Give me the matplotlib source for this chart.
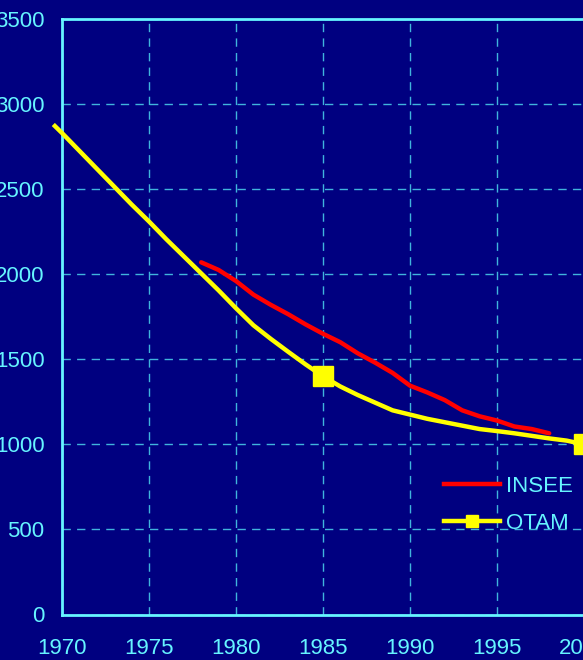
import matplotlib.pyplot as plt
from matplotlib.lines import Line2D

# ------------------------------------------------------------
# data
# ------------------------------------------------------------
otam_years = [1969.5, 1970, 1971, 1972, 1973, 1974, 1975, 1976, 1977, 1978, 1979,
              1980, 1981, 1982, 1983, 1984, 1985, 1986, 1987, 1988, 1989,
              1990, 1991, 1992, 1993, 1994, 1995, 1996, 1997, 1998, 1999, 2000]
otam_values = [2880, 2830, 2725, 2620, 2515, 2410, 2310, 2205, 2105, 2005, 1905,
               1800, 1700, 1620, 1544, 1470, 1400, 1340, 1290, 1245, 1200,
               1175, 1150, 1130, 1110, 1090, 1078, 1065, 1050, 1035, 1022, 1000]
otam_marked = [1985, 2000]

insee_years = [1978, 1979, 1980, 1981, 1982, 1983, 1984, 1985, 1986, 1987, 1988,
               1989, 1990, 1991, 1992, 1993, 1994, 1995, 1996, 1997, 1998]
insee_values = [2070, 2025, 1960, 1880, 1820, 1765, 1705, 1650, 1600, 1535, 1480,
                1420, 1345, 1305, 1260, 1200, 1165, 1140, 1105, 1090, 1065]

x_ticks = [1970, 1975, 1980, 1985, 1990, 1995, 2000]
y_ticks = [0, 500, 1000, 1500, 2000, 2500, 3000, 3500]

# ------------------------------------------------------------
# style
# ------------------------------------------------------------
BG = "#000080"
CYAN = "#66F4FF"
GRID = "#40B4DC"
plt.rcParams["font.family"] = ["Liberation Sans", "DejaVu Sans"]

fig = plt.figure(figsize=(5.83, 6.6), dpi=100, facecolor=BG)
ax = fig.add_axes([62 / 583, 45.5 / 660, 522 / 583, 595.5 / 660], facecolor=BG)

mark_idx = [otam_years.index(y) for y in otam_marked]
ax.plot(otam_years, otam_values, color="#FFFF00", lw=3.2, marker="s",
        markersize=14, markevery=mark_idx, clip_on=False, zorder=3,
        solid_capstyle="butt")
ax.plot(insee_years, insee_values, color="#FF0000", lw=3.2, zorder=4,
        solid_capstyle="round")

ax.set_xlim(1970, 2000)
ax.set_ylim(0, 3500)
ax.set_xticks(x_ticks)
ax.set_yticks(y_ticks)
ax.tick_params(axis="both", length=0, labelsize=16, labelcolor=CYAN)
ax.tick_params(axis="x", pad=17)
ax.tick_params(axis="y", pad=12.5)

ax.grid(True, color=GRID, lw=1.0, dashes=(6, 4.5))
for side in ("left", "bottom", "top"):
    ax.spines[side].set_color(CYAN)
    ax.spines[side].set_linewidth(2.0)
ax.spines["right"].set_visible(False)

handles = [
    Line2D([], [], color="#FF0000", lw=3.2),
    Line2D([], [], color="#FFFF00", lw=3.2, marker="s", markersize=9),
]
leg = fig.legend(handles, ["INSEE", "OTAM"], loc="upper left",
                 bbox_to_anchor=(444 / 583, (660 - 476) / 660),
                 frameon=False, fontsize=16, handlelength=2.5,
                 handletextpad=0.3, labelspacing=0.72, borderpad=0,
                 borderaxespad=0)
for t in leg.get_texts():
    t.set_color(CYAN)

fig.savefig("out.png", dpi=100, facecolor=BG)
